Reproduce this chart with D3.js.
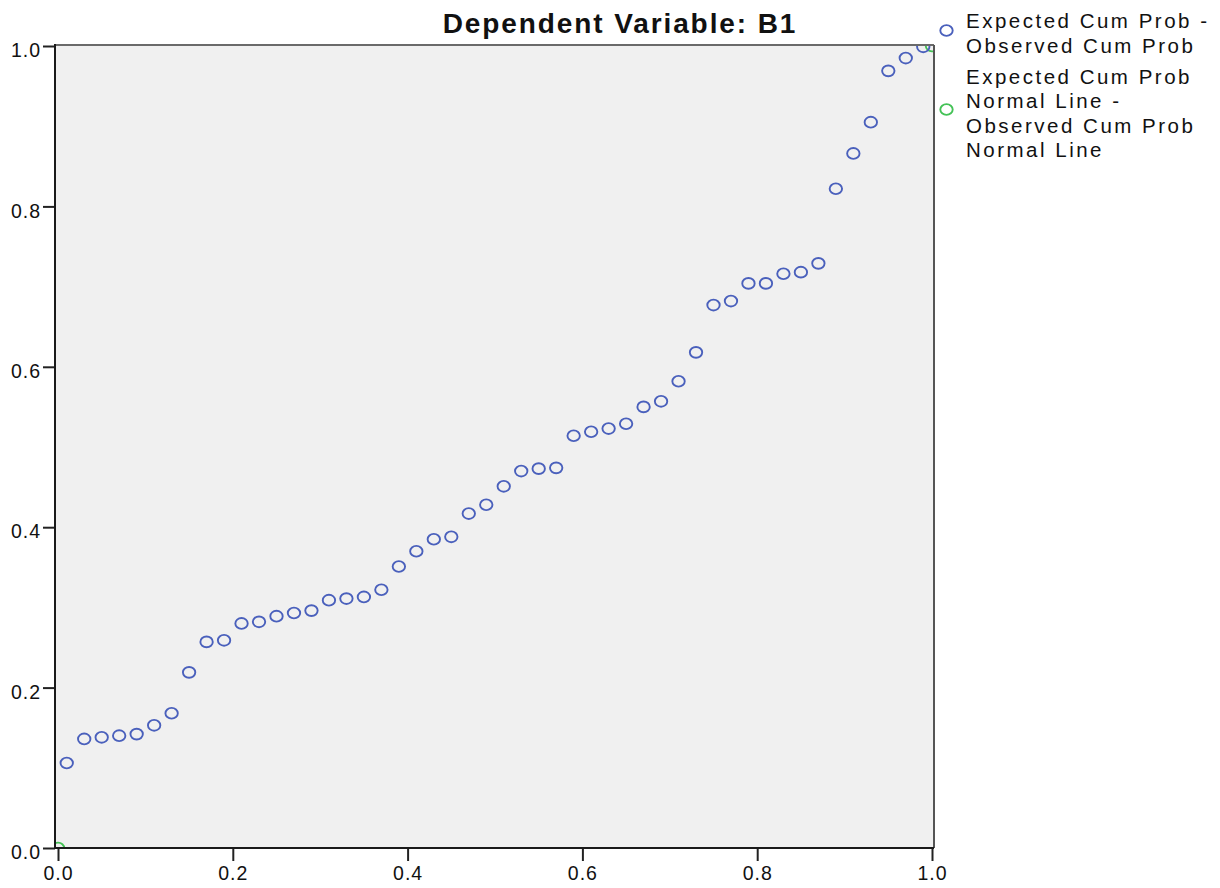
<!DOCTYPE html>
<html>
<head>
<meta charset="utf-8">
<script src="https://cdn.jsdelivr.net/npm/d3@7/dist/d3.min.js"></script>
<style>
  html, body { margin: 0; padding: 0; background: #ffffff; }
  svg { display: block; }
  text { font-family: "Liberation Sans", Arial, sans-serif; fill: #111; }
</style>
</head>
<body>
<svg id="chart" width="1220" height="888"></svg>
<script>
// ---- Data ----
const title = "Dependent Variable: B1";
const observedCumProb = [
  0.01, 0.03, 0.05, 0.07, 0.09, 0.11, 0.13, 0.15, 0.17, 0.19,
  0.21, 0.23, 0.25, 0.27, 0.29, 0.31, 0.33, 0.35, 0.37, 0.39,
  0.41, 0.43, 0.45, 0.47, 0.49, 0.51, 0.53, 0.55, 0.57, 0.59,
  0.61, 0.63, 0.65, 0.67, 0.69, 0.71, 0.73, 0.75, 0.77, 0.79,
  0.81, 0.83, 0.85, 0.87, 0.89, 0.91, 0.93, 0.95, 0.97, 0.99
];
const expectedCumProb = [
  0.106, 0.136, 0.138, 0.140, 0.142, 0.153, 0.168, 0.219, 0.257, 0.259,
  0.280, 0.282, 0.289, 0.293, 0.296, 0.309, 0.311, 0.313, 0.322, 0.351,
  0.370, 0.385, 0.388, 0.417, 0.428, 0.451, 0.470, 0.473, 0.474, 0.514,
  0.519, 0.523, 0.529, 0.550, 0.557, 0.582, 0.618, 0.677, 0.682, 0.704,
  0.704, 0.716, 0.718, 0.729, 0.822, 0.866, 0.905, 0.969, 0.985, 0.999
];
const normalLineX = [0, 1];
const normalLineY = [0, 1];
const xTicks = [0, 0.2, 0.4, 0.6, 0.8, 1.0];
const yTicks = [0, 0.2, 0.4, 0.6, 0.8, 1.0];
const legendLabels = [
  ["Expected Cum Prob -", "Observed Cum Prob"],
  ["Expected Cum Prob", "Normal Line -", "Observed Cum Prob", "Normal Line"]
];

// ---- Layout ----
const svg = d3.select("#chart");
const plot = { left: 55, right: 934, top: 45, bottom: 848 };
const x = d3.scaleLinear().domain([0, 1]).range([58, 932]);
const y = d3.scaleLinear().domain([0, 1]).range([848, 46]);
const blue = "#4a60bc";
const green = "#44c256";
const rx = 6.2, ry = 5.4, sw = 1.9;

// plot background
svg.append("rect")
  .attr("x", plot.left).attr("y", plot.top)
  .attr("width", plot.right - plot.left).attr("height", plot.bottom - plot.top)
  .attr("fill", "#f0f0f0");

svg.append("clipPath").attr("id", "clip")
  .append("rect")
  .attr("x", plot.left).attr("y", plot.top)
  .attr("width", plot.right - plot.left).attr("height", plot.bottom - plot.top);

const g = svg.append("g").attr("clip-path", "url(#clip)");

// normal line markers
g.selectAll("ellipse.norm")
  .data(normalLineX.map((d, i) => [d, normalLineY[i]]))
  .join("ellipse")
  .attr("class", "norm")
  .attr("cx", d => x(d[0])).attr("cy", d => y(d[1]))
  .attr("rx", rx).attr("ry", ry)
  .attr("fill", "none").attr("stroke", green).attr("stroke-width", sw);

// observed points
g.selectAll("ellipse.obs")
  .data(observedCumProb.map((d, i) => [d, expectedCumProb[i]]))
  .join("ellipse")
  .attr("class", "obs")
  .attr("cx", d => x(d[0])).attr("cy", d => y(d[1]))
  .attr("rx", rx).attr("ry", ry)
  .attr("fill", "none").attr("stroke", blue).attr("stroke-width", sw);

// frame
svg.append("line").attr("x1", plot.left).attr("x2", plot.right)
  .attr("y1", plot.top).attr("y2", plot.top)
  .attr("stroke", "#6a6a6a").attr("stroke-width", 2);
svg.append("line").attr("x1", plot.right).attr("x2", plot.right)
  .attr("y1", plot.top).attr("y2", plot.bottom)
  .attr("stroke", "#555").attr("stroke-width", 2);

// axes
const xAxis = d3.axisBottom(x).tickValues(xTicks).tickFormat(d3.format(".1f"))
  .tickSize(13).tickPadding(5);
const xg = svg.append("g").attr("transform", `translate(0,${plot.bottom})`).call(xAxis);
xg.select(".domain").remove();
xg.selectAll(".tick line").attr("stroke", "#222").attr("stroke-width", 2);
xg.selectAll(".tick text").attr("font-size", "19.5px").attr("fill", "#222")
  .style("letter-spacing", "1px");

const yAxis = d3.axisLeft(y).tickValues(yTicks).tickFormat(d3.format(".1f"))
  .tickSize(12).tickPadding(2);
const yg = svg.append("g").attr("transform", `translate(${plot.left},0)`).call(yAxis);
yg.select(".domain").remove();
yg.selectAll(".tick line").attr("stroke", "#222").attr("stroke-width", 2);
yg.selectAll(".tick text").attr("font-size", "19.5px").attr("fill", "#222")
  .attr("dy", "0.55em").style("letter-spacing", "1px");

svg.append("line").attr("x1", plot.left).attr("x2", plot.right)
  .attr("y1", plot.bottom).attr("y2", plot.bottom)
  .attr("stroke", "#1a1a1a").attr("stroke-width", 2);
svg.append("line").attr("x1", plot.left).attr("x2", plot.left)
  .attr("y1", plot.top - 1).attr("y2", plot.bottom + 1)
  .attr("stroke", "#1a1a1a").attr("stroke-width", 2);

// title
svg.append("text")
  .attr("x", 620).attr("y", 33)
  .attr("text-anchor", "middle")
  .attr("font-size", "28px").attr("font-weight", "bold")
  .style("letter-spacing", "1.9px")
  .text(title);

// legend
const legendCircles = [
  { cy: 30.5, color: blue, lines: legendLabels[0], baselines: [28, 52.5] },
  { cy: 109.5, color: green, lines: legendLabels[1], baselines: [83.5, 108, 132.5, 157] }
];
const lg = svg.append("g");
legendCircles.forEach(item => {
  lg.append("ellipse").attr("cx", 946.5).attr("cy", item.cy)
    .attr("rx", rx).attr("ry", ry)
    .attr("fill", "none").attr("stroke", item.color).attr("stroke-width", sw);
  item.lines.forEach((t, i) => {
    lg.append("text").attr("x", 966).attr("y", item.baselines[i])
      .attr("font-size", "20.5px").attr("fill", "#222")
      .style("letter-spacing", "2.5px")
      .text(t);
  });
});
</script>
</body>
</html>
